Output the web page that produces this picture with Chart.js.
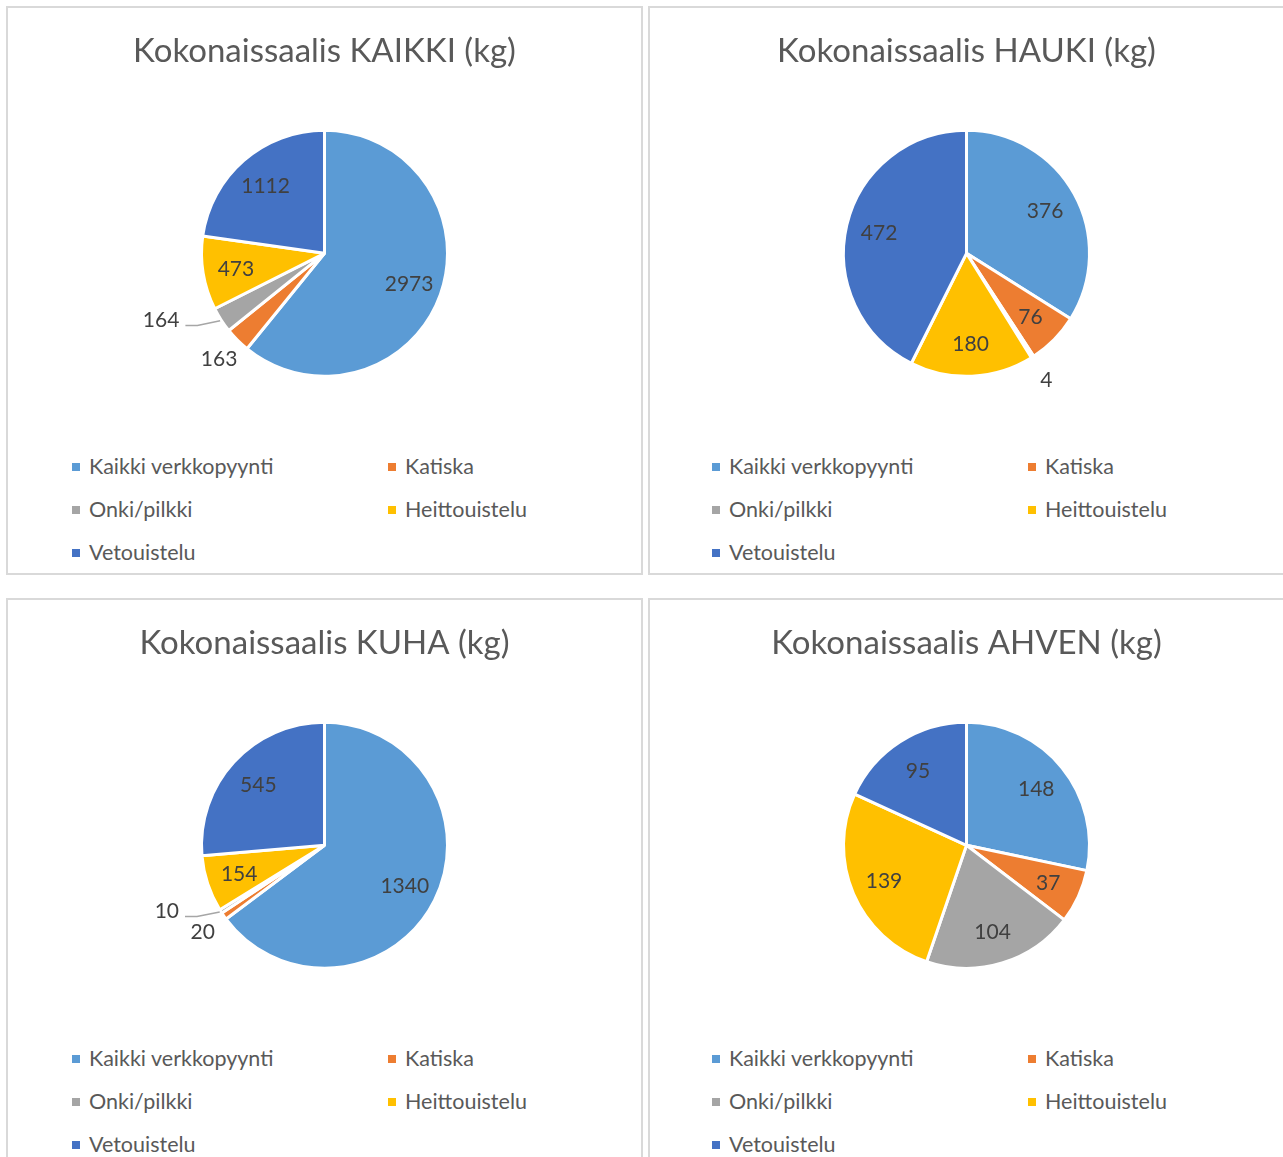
<!DOCTYPE html>
<html>
<head>
<meta charset="utf-8">
<script src="https://cdn.jsdelivr.net/npm/chart.js@4.4.1/dist/chart.umd.min.js"></script>
<style>
    body { margin: 0; background: #fff; width: 1283px; height: 1157px; overflow: hidden; position: relative; }
    .panel { position: absolute; width: 637px; height: 569px; border: 2px solid #d9d9d9; box-sizing: border-box; background: #fff; }
    .plot { position: absolute; left: 0; top: 0; width: 633px; height: 408px; }
    .legend { position: absolute; left: 64px; top: 437px; width: 560px; display: grid; grid-template-columns: 316px 240px;
              font-family: Lato, sans-serif; font-size: 21.5px; color: #595959; }
    .legend div { height: 43px; line-height: 43px; white-space: nowrap; }
    .legend span { display: inline-block; width: 8px; height: 8px; margin-right: 9px; vertical-align: middle; position: relative; top: -2px; }
</style>
</head>
<body>
<div class="panel" style="left:6px;top:6px"><div class="plot"><canvas id="chart0"></canvas></div><div class="legend" id="legend0"></div></div>
<div class="panel" style="left:648px;top:6px"><div class="plot"><canvas id="chart1"></canvas></div><div class="legend" id="legend1" style="left:62px"></div></div>
<div class="panel" style="left:6px;top:598px"><div class="plot"><canvas id="chart2"></canvas></div><div class="legend" id="legend2"></div></div>
<div class="panel" style="left:648px;top:598px"><div class="plot"><canvas id="chart3"></canvas></div><div class="legend" id="legend3" style="left:62px"></div></div>
<script>
// Data
const categories = ['Kaikki verkkopyynti', 'Katiska', 'Onki/pilkki', 'Heittouistelu', 'Vetouistelu'];
const kaikkiValues = [2973, 163, 164, 473, 1112];
const haukiValues = [376, 76, 4, 180, 472];
const kuhaValues = [1340, 20, 10, 154, 545];
const ahvenValues = [148, 37, 104, 139, 95];
const chartTitles = ['Kokonaissaalis KAIKKI (kg)', 'Kokonaissaalis HAUKI (kg)', 'Kokonaissaalis KUHA (kg)', 'Kokonaissaalis AHVEN (kg)'];

const sliceColors = ['#5b9bd5', '#ed7d31', '#a5a5a5', '#ffc000', '#4472c4'];

// draws the value labels, small slices go outside (with a leader line if crowded)
const valueLabels = {
    id: 'valueLabels',
    afterDatasetsDraw(chart) {
        const ctx = chart.ctx;
        const meta = chart.getDatasetMeta(0);
        const values = chart.data.datasets[0].data;
        const total = values.reduce((a, b) => a + b, 0);
        let lastOutside = null;
        ctx.save();
        ctx.font = '21px Lato';
        ctx.fillStyle = '#404040';
        ctx.textBaseline = 'middle';
        meta.data.forEach((arc, i) => {
            const p = arc.getProps(['x', 'y', 'startAngle', 'endAngle', 'outerRadius'], true);
            const mid = (p.startAngle + p.endAngle) / 2;
            const text = String(values[i]);
            if (values[i] / total >= 0.05) {
                const r = p.outerRadius * 0.73;
                ctx.textAlign = 'center';
                ctx.fillText(text, p.x + Math.cos(mid) * r, p.y + Math.sin(mid) * r + 1);
            } else if (lastOutside === null || mid - lastOutside > 0.3) {
                const r = p.outerRadius * 1.21;
                ctx.textAlign = 'center';
                ctx.fillText(text, p.x + Math.cos(mid) * r, p.y + Math.sin(mid) * r + 1);
                lastOutside = mid;
            } else {
                const a = mid + 8 * Math.PI / 180;
                const r = p.outerRadius * 1.3;
                const lx = p.x + Math.cos(a) * r;
                const ly = p.y + Math.sin(a) * r;
                ctx.textAlign = 'right';
                ctx.fillText(text, lx, ly);
                // leader line
                const ex = p.x + Math.cos(mid) * p.outerRadius * 1.01;
                const ey = p.y + Math.sin(mid) * p.outerRadius * 1.01;
                ctx.strokeStyle = '#a6a6a6';
                ctx.lineWidth = 1.5;
                ctx.beginPath();
                ctx.moveTo(lx + 6, ly + 5);
                ctx.lineTo(lx + 18, ly + 5);
                ctx.lineTo(ex, ey);
                ctx.stroke();
                lastOutside = mid;
            }
        });
        ctx.restore();
    }
};

function makePie(idx, values) {
    const chart = new Chart(document.getElementById('chart' + idx), {
        type: 'pie',
        data: {
            labels: categories,
            datasets: [{
                data: values,
                backgroundColor: sliceColors,
                borderColor: '#ffffff',
                borderWidth: 3
            }]
        },
        options: {
            responsive: true,
            maintainAspectRatio: false,
            animation: false,
            radius: 123,
            layout: { padding: 0 },
            plugins: {
                legend: { display: false },
                tooltip: { enabled: false },
                title: {
                    display: true,
                    text: chartTitles[idx],
                    color: '#595959',
                    font: { family: 'Lato', size: 33, weight: 'normal' },
                    padding: { top: 24, bottom: 19 }
                }
            }
        },
        plugins: [valueLabels]
    });

    // html legend built from the chart data
    const legend = document.getElementById('legend' + idx);
    chart.data.labels.forEach((label, i) => {
        const item = document.createElement('div');
        item.innerHTML = `<span style="background:${sliceColors[i]}"></span>${label}`;
        legend.appendChild(item);
    });
}

makePie(0, kaikkiValues);
makePie(1, haukiValues);
makePie(2, kuhaValues);
makePie(3, ahvenValues);
</script>
</body>
</html>
